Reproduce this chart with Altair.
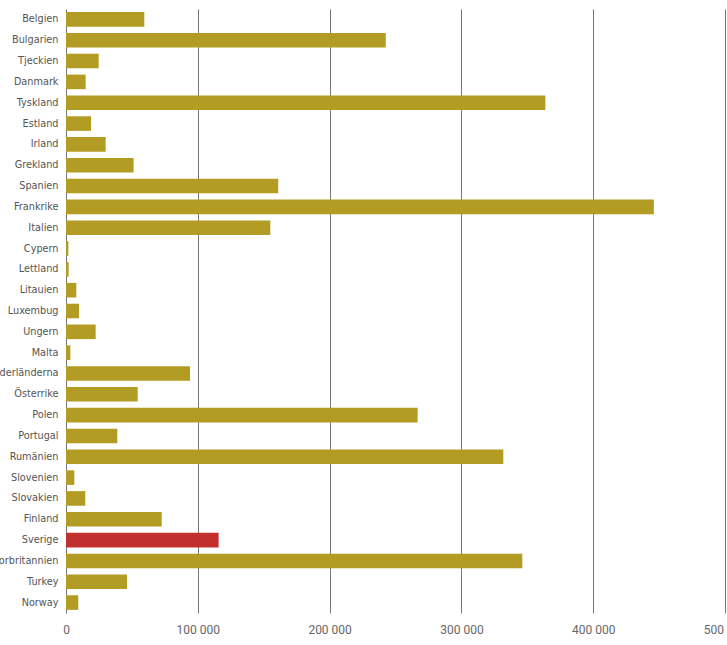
import altair as alt
import pandas as pd

countries = ["Belgien", "Bulgarien", "Tjeckien", "Danmark", "Tyskland", "Estland",
             "Irland", "Grekland", "Spanien", "Frankrike", "Italien", "Cypern",
             "Lettland", "Litauien", "Luxembug", "Ungern", "Malta", "Nederländerna",
             "Österrike", "Polen", "Portugal", "Rumänien", "Slovenien", "Slovakien",
             "Finland", "Sverige", "Storbritannien", "Turkey", "Norway"]
values = [59400, 242600, 24800, 14900, 363700, 19000,
          30100, 51300, 161000, 446000, 155000, 1800,
          2000, 7800, 9900, 22500, 3300, 94100,
          54400, 266800, 38900, 331800, 6300, 14600,
          72600, 115800, 346200, 46300, 9300]
highlight = "Sverige"
x_ticks = [0, 100000, 200000, 300000, 400000, 500000]

df = pd.DataFrame({"land": countries, "antal": values})

font = "DejaVu Sans Condensed, Roboto, sans-serif"

chart = alt.Chart(df).mark_bar(size=14.6).encode(
    y=alt.Y("land:N", sort=None, title=None,
            scale=alt.Scale(paddingInner=0.3, paddingOuter=0.15),
            axis=alt.Axis(ticks=False, domain=False, labelPadding=8,
                          labelFont=font, labelFontSize=10.8,
                          labelColor="#555555", grid=False)),
    x=alt.X("antal:Q", title=None,
            scale=alt.Scale(domain=[0, 500000], nice=False),
            axis=alt.Axis(values=x_ticks, ticks=False, domain=False, grid=True,
                          gridColor="#777777", gridWidth=1, gridOpacity=1,
                          labelPadding=11, labelFontSize=12, labelFont="Roboto, sans-serif",
                          labelColor="#666666", labelFlush=False,
                          labelExpr="replace(format(datum.value, ','), ',', ' ')")),
    color=alt.condition(alt.datum.land == highlight, alt.value("#C1302F"), alt.value("#B39C23")),
).properties(
    width=659, height=604,
    background="white",
    autosize=alt.AutoSizeParams(type="none"),
    padding={"left": 66, "top": 9, "right": 2, "bottom": 32},
).configure_view(strokeWidth=0, stroke="transparent")

chart.save("out.html", embed_options={"renderer": "svg", "actions": False})
